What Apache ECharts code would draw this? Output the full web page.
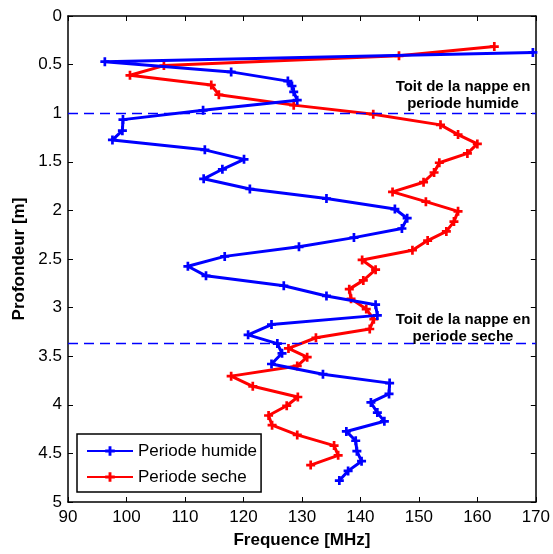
<!DOCTYPE html>
<html>
<head>
<meta charset="utf-8">
<script src="https://cdn.jsdelivr.net/npm/echarts@6/dist/echarts.min.js"></script>
<style>
html,body{margin:0;padding:0;background:#fff;}
#chart{width:553px;height:554px;}
</style>
</head>
<body>
<div id="chart"></div>
<script>
// ---- data ----
var seriesNames = ['Periode humide', 'Periode seche'];
var depthHumide = [0.375, 0.47, 0.575, 0.67, 0.72, 0.78, 0.866, 0.97, 1.066, 1.18, 1.275, 1.377, 1.475, 1.577, 1.675, 1.78, 1.878, 1.986, 2.08, 2.186, 2.28, 2.375, 2.473, 2.575, 2.673, 2.775, 2.88, 2.97, 3.08, 3.174, 3.28, 3.37, 3.47, 3.58, 3.685, 3.777, 3.888, 3.976, 4.08, 4.17, 4.274, 4.37, 4.477, 4.58, 4.68, 4.78];
var freqHumide = [169.5, 96.3, 117.9, 127.6, 128.3, 128.6, 129.2, 113.1, 99.4, 99.3, 97.6, 113.4, 120.1, 116.4, 113.2, 121.1, 134.2, 145.9, 148.0, 147.1, 138.9, 129.5, 116.8, 110.5, 113.6, 126.9, 134.2, 142.6, 142.9, 124.8, 120.8, 125.8, 126.6, 124.8, 133.6, 145.0, 144.9, 141.8, 142.9, 144.1, 137.6, 139.2, 139.4, 140.2, 137.9, 136.4];
var depthSeche = [0.315, 0.41, 0.51, 0.61, 0.71, 0.81, 0.917, 1.01, 1.12, 1.22, 1.316, 1.414, 1.51, 1.61, 1.71, 1.81, 1.91, 2.01, 2.115, 2.216, 2.31, 2.41, 2.51, 2.61, 2.72, 2.81, 2.91, 3.015, 3.12, 3.22, 3.31, 3.42, 3.51, 3.60, 3.705, 3.81, 3.92, 4.01, 4.11, 4.21, 4.31, 4.42, 4.52, 4.62];
var freqSeche = [162.9, 146.6, 106.4, 100.6, 114.5, 115.8, 128.6, 142.2, 153.7, 156.7, 160.0, 158.3, 153.5, 152.6, 150.8, 145.5, 151.2, 156.7, 156.0, 154.7, 151.5, 148.9, 140.3, 142.6, 140.5, 138.1, 138.4, 141.0, 142.3, 141.6, 132.4, 127.7, 130.9, 129.2, 117.9, 121.6, 129.3, 127.4, 124.3, 124.9, 129.2, 135.5, 136.2, 131.5];
var waterTableDepths = [1.0, 3.37];
var annotationLines = [['Toit de la nappe en', 'periode humide'], ['Toit de la nappe en', 'periode seche']];
var xAxisName = 'Frequence [MHz]';
var yAxisName = 'Profondeur [m]';

// ---- chart ----
var FONT = '"Liberation Sans", Arial, Helvetica, sans-serif';
var plusPath = 'path://M-1,-0.3 L-0.3,-0.3 L-0.3,-1 L0.3,-1 L0.3,-0.3 L1,-0.3 L1,0.3 L0.3,0.3 L0.3,1 L-0.3,1 L-0.3,0.3 L-1,0.3 Z';

function zip(xs, ys) { return xs.map(function (x, i) { return [x, ys[i]]; }); }

var chart = echarts.init(document.getElementById('chart'), null, {renderer: 'canvas'});

var axisCommon = {
  axisLine: {show: true, onZero: false, lineStyle: {color: '#000', width: 1.5}},
  axisTick: {show: true, inside: true, length: 5, lineStyle: {color: '#000', width: 1}},
  splitLine: {show: false}
};

var dashStyle = {color: '#0000ff', type: [10, 6], width: 1.3, opacity: 1};

var option = {
  backgroundColor: '#fff',
  animation: false,
  grid: {left: 68, right: 17, top: 16, bottom: 46, containLabel: false},
  xAxis: [
    Object.assign({}, axisCommon, {
      type: 'value', min: 90, max: 170, interval: 10, position: 'bottom',
      name: xAxisName, nameLocation: 'middle', nameGap: 30,
      nameTextStyle: {fontFamily: FONT, fontWeight: 'bold', fontSize: 17, color: '#000'},
      axisLabel: {fontFamily: FONT, fontSize: 17, color: '#000', margin: 7}
    }),
    Object.assign({}, axisCommon, {
      type: 'value', min: 90, max: 170, interval: 10, position: 'top',
      axisLabel: {show: false}
    })
  ],
  yAxis: [
    Object.assign({}, axisCommon, {
      type: 'value', min: 0, max: 5, interval: 0.5, inverse: true, position: 'left',
      name: yAxisName, nameLocation: 'middle', nameGap: 36,
      nameTextStyle: {fontFamily: FONT, fontWeight: 'bold', fontSize: 17, color: '#000'},
      axisLabel: {fontFamily: FONT, fontSize: 17, color: '#000', margin: 6}
    }),
    Object.assign({}, axisCommon, {
      type: 'value', min: 0, max: 5, interval: 0.5, inverse: true, position: 'right',
      axisLabel: {show: false}
    })
  ],
  legend: {
    orient: 'vertical', left: 77, top: 434,
    data: seriesNames,
    itemWidth: 46, itemHeight: 12, itemGap: 8,
    padding: [8, 4, 6, 9],
    borderColor: '#000', borderWidth: 1.5, backgroundColor: '#fff',
    textStyle: {fontFamily: FONT, fontSize: 17, color: '#000', lineHeight: 18}
  },
  series: [
    {
      name: seriesNames[0], type: 'line', data: zip(freqHumide, depthHumide),
      symbol: plusPath, symbolSize: 9, showAllSymbol: true,
      lineStyle: {color: '#0000ff', width: 3}, itemStyle: {color: '#0000ff'},
      z: 3,
      markLine: {
        silent: true, symbol: ['none', 'none'], animation: false,
        label: {show: false},
        itemStyle: {color: '#0000ff'},
        lineStyle: dashStyle,
        emphasis: {disabled: true},
        data: waterTableDepths.map(function (d) {
          return {yAxis: d, lineStyle: dashStyle, itemStyle: {color: '#0000ff'}};
        })
      }
    },
    {
      name: seriesNames[1], type: 'line', data: zip(freqSeche, depthSeche),
      symbol: plusPath, symbolSize: 9, showAllSymbol: true,
      lineStyle: {color: '#ff0000', width: 3}, itemStyle: {color: '#ff0000'},
      z: 2
    }
  ]
};
chart.setOption(option);

// annotations placed next to the dashed lines
var annY = [[87, 104], [320, 337]];
var graphics = [];
annotationLines.forEach(function (lines, i) {
  lines.forEach(function (t, j) {
    graphics.push({
      type: 'text', z: 100,
      style: {
        text: t, x: 463, y: annY[i][j], textAlign: 'center', textVerticalAlign: 'middle',
        fontFamily: FONT, fontWeight: 'bold', fontSize: 15, fill: '#000'
      }
    });
  });
});
chart.setOption({graphic: graphics});
</script>
</body>
</html>
